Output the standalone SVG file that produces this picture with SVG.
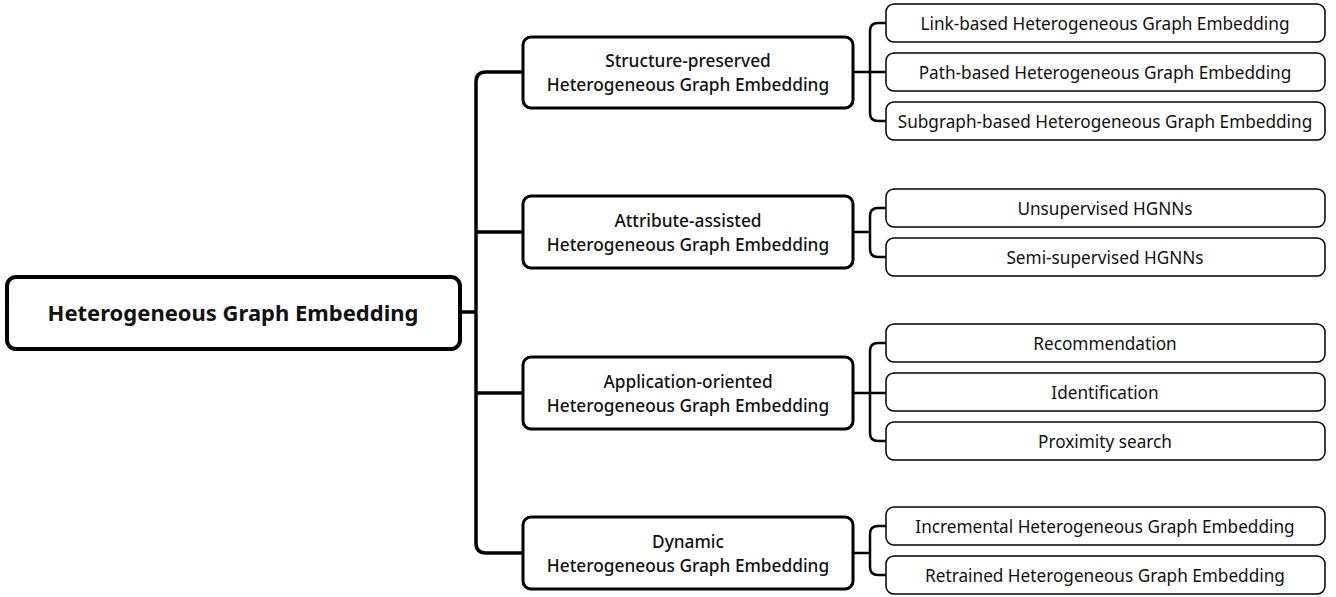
<svg xmlns="http://www.w3.org/2000/svg" width="1336" height="597" viewBox="0 0 1336 597">
<style>
.root{fill:#fff;stroke:#000;stroke-width:4}
.l1{fill:#fff;stroke:#000;stroke-width:3}
.l2{fill:#fff;stroke:#000;stroke-width:1.5}
.c0{fill:none;stroke:#000;stroke-width:3.5;stroke-linejoin:round}
.c1{fill:none;stroke:#000;stroke-width:2.5;stroke-linejoin:round}
text{font-family:"Noto Sans","Open Sans",sans-serif;fill:#111;text-anchor:middle;dominant-baseline:central}
.t0{font-size:22px;font-weight:700}
.t1{font-size:17.3px;font-weight:500}
.t2{font-size:17.2px;font-weight:400}
</style>
<rect width="1336" height="597" fill="#fff"/>
<g id="connectors">
<path class="c0" d="M460 312 H476"/>
<path class="c0" d="M523 72 H486 Q476 72 476 82 V543 Q476 553 486 553 H523"/>
<path class="c0" d="M476 232 H523 M476 393 H523"/>
<path class="c1" d="M853 72 H886 M886 23 H878 Q870 23 870 31 V113 Q870 121 878 121 H886"/>
<path class="c1" d="M853 232 H870 M886 208 H878 Q870 208 870 216 V249 Q870 257 878 257 H886"/>
<path class="c1" d="M853 393 H886 M886 343 H878 Q870 343 870 351 V433 Q870 441 878 441 H886"/>
<path class="c1" d="M853 553 H870 M886 526 H878 Q870 526 870 534 V567 Q870 575 878 575 H886"/>
</g>
<g id="root"><rect class="root" x="7" y="277" width="453" height="72" rx="9"/><text class="t0" x="233" y="312">Heterogeneous Graph Embedding</text></g>
<g id="structure"><rect class="l1" x="523" y="37" width="330" height="71" rx="8"/><text class="t1" x="688" y="60">Structure-preserved</text><text class="t1" x="688" y="84">Heterogeneous Graph Embedding</text></g>
<g id="attribute"><rect class="l1" x="523" y="196" width="330" height="72" rx="8"/><text class="t1" x="688" y="220">Attribute-assisted</text><text class="t1" x="688" y="244">Heterogeneous Graph Embedding</text></g>
<g id="application"><rect class="l1" x="523" y="357" width="330" height="72" rx="8"/><text class="t1" x="688" y="381">Application-oriented</text><text class="t1" x="688" y="405">Heterogeneous Graph Embedding</text></g>
<g id="dynamic"><rect class="l1" x="523" y="517" width="330" height="72" rx="8"/><text class="t1" x="688" y="541">Dynamic</text><text class="t1" x="688" y="565">Heterogeneous Graph Embedding</text></g>
<g id="link"><rect class="l2" x="886" y="4" width="439" height="38" rx="8"/><text class="t2" x="1105" y="23">Link-based Heterogeneous Graph Embedding</text></g>
<g id="path"><rect class="l2" x="886" y="53" width="439" height="38" rx="8"/><text class="t2" x="1105" y="72">Path-based Heterogeneous Graph Embedding</text></g>
<g id="subgraph"><rect class="l2" x="886" y="102" width="439" height="38" rx="8"/><text class="t2" x="1105" y="121">Subgraph-based Heterogeneous Graph Embedding</text></g>
<g id="unsupervised"><rect class="l2" x="886" y="189" width="439" height="38" rx="8"/><text class="t2" x="1105" y="208">Unsupervised HGNNs</text></g>
<g id="semi"><rect class="l2" x="886" y="238" width="439" height="38" rx="8"/><text class="t2" x="1105" y="257">Semi-supervised HGNNs</text></g>
<g id="recommendation"><rect class="l2" x="886" y="324" width="439" height="38" rx="8"/><text class="t2" x="1105" y="343">Recommendation</text></g>
<g id="identification"><rect class="l2" x="886" y="373" width="439" height="38" rx="8"/><text class="t2" x="1105" y="392">Identification</text></g>
<g id="proximity"><rect class="l2" x="886" y="422" width="439" height="38" rx="8"/><text class="t2" x="1105" y="441">Proximity search</text></g>
<g id="incremental"><rect class="l2" x="886" y="507" width="439" height="38" rx="8"/><text class="t2" x="1105" y="526">Incremental Heterogeneous Graph Embedding</text></g>
<g id="retrained"><rect class="l2" x="886" y="556" width="439" height="38" rx="8"/><text class="t2" x="1105" y="575">Retrained Heterogeneous Graph Embedding</text></g>
</svg>
